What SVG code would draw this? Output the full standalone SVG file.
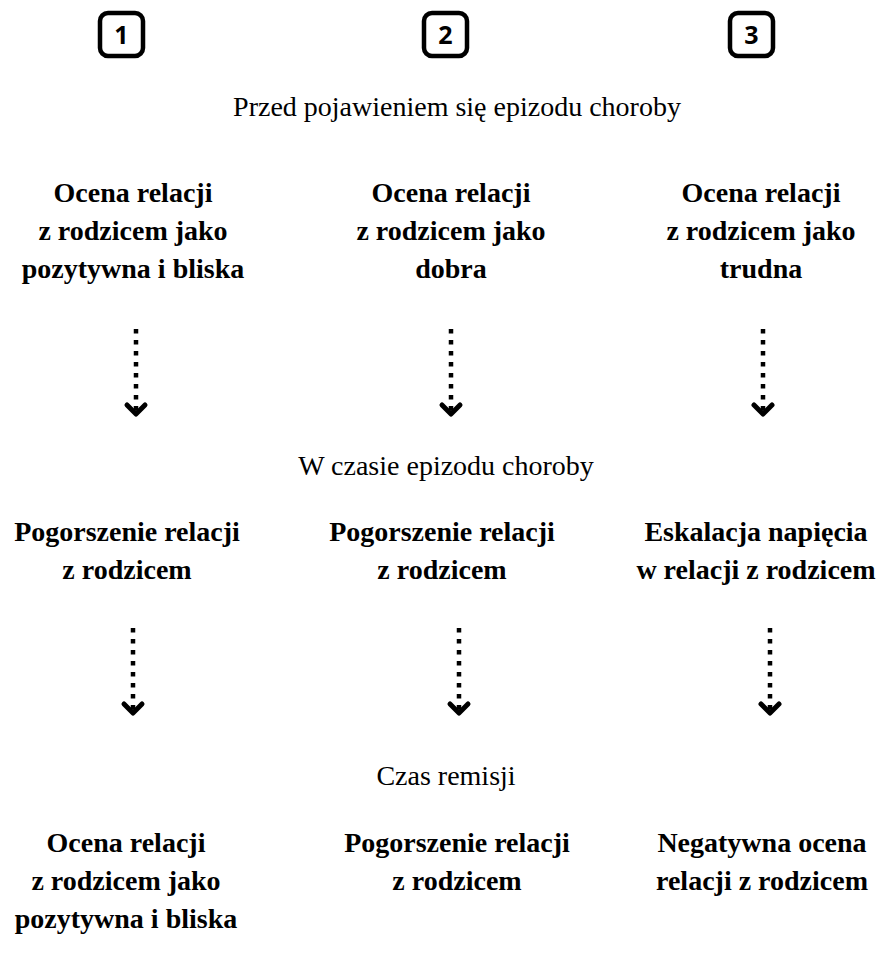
<svg xmlns="http://www.w3.org/2000/svg" width="893" height="960" viewBox="0 0 893 960">
<style>
.bg{fill:#fff}
.num{fill:none;stroke:#000;stroke-width:4.5}
.numt{font-family:'Open Sans','DejaVu Sans',sans-serif;font-weight:bold;font-size:25px;fill:#000;text-anchor:middle}
.hdr{font-family:'Liberation Serif','Times New Roman',serif;font-size:28px;fill:#000;text-anchor:middle}
.nt{font-family:'Liberation Serif','Times New Roman',serif;font-weight:bold;font-size:28px;fill:#000;text-anchor:middle}
.dot{stroke:#000;stroke-width:4.5;stroke-dasharray:4.5 6.5;fill:none}
</style>
<defs>
<marker id="chev" markerUnits="userSpaceOnUse" viewBox="-16 -16 32 32" refX="0" refY="0" markerWidth="32" markerHeight="32" orient="auto">
<path d="M-9,-9 L0,0 L-9,9" fill="none" stroke="#000" stroke-width="5" stroke-linecap="round" stroke-linejoin="round"/>
</marker>
</defs>
<rect class="bg" x="0" y="0" width="893" height="960"/>
<g id="n1">
<rect class="num" x="100" y="13" width="43" height="43" rx="8"/>
<text class="numt" x="121.5" y="43.5">1</text>
</g>
<g id="n2">
<rect class="num" x="424" y="13" width="43" height="43" rx="8"/>
<text class="numt" x="445.5" y="43.5">2</text>
</g>
<g id="n3">
<rect class="num" x="730" y="13" width="43" height="43" rx="8"/>
<text class="numt" x="751.5" y="43.5">3</text>
</g>
<g id="h1"><text class="hdr" x="457" y="116">Przed pojawieniem się epizodu choroby</text></g>
<g id="a1"><text class="nt" x="133" y="202">Ocena relacji</text><text class="nt" x="133" y="240">z rodzicem jako</text><text class="nt" x="133" y="278">pozytywna i bliska</text></g>
<g id="a2"><text class="nt" x="451" y="202">Ocena relacji</text><text class="nt" x="451" y="240">z rodzicem jako</text><text class="nt" x="451" y="278">dobra</text></g>
<g id="a3"><text class="nt" x="761" y="202">Ocena relacji</text><text class="nt" x="761" y="240">z rodzicem jako</text><text class="nt" x="761" y="278">trudna</text></g>
<g id="h2"><text class="hdr" x="446" y="475">W czasie epizodu choroby</text></g>
<g id="b1"><text class="nt" x="127" y="541">Pogorszenie relacji</text><text class="nt" x="127" y="579">z rodzicem</text></g>
<g id="b2"><text class="nt" x="442" y="541">Pogorszenie relacji</text><text class="nt" x="442" y="579">z rodzicem</text></g>
<g id="b3"><text class="nt" x="756" y="541">Eskalacja napięcia</text><text class="nt" x="756" y="579">w relacji z rodzicem</text></g>
<g id="h3"><text class="hdr" x="446" y="785">Czas remisji</text></g>
<g id="c1"><text class="nt" x="126" y="852">Ocena relacji</text><text class="nt" x="126" y="890">z rodzicem jako</text><text class="nt" x="126" y="928">pozytywna i bliska</text></g>
<g id="c2"><text class="nt" x="457" y="852">Pogorszenie relacji</text><text class="nt" x="457" y="890">z rodzicem</text></g>
<g id="c3"><text class="nt" x="762" y="852">Negatywna ocena</text><text class="nt" x="762" y="890">relacji z rodzicem</text></g>
<g id="connectors">
<line class="dot" x1="136" y1="329" x2="136" y2="414" marker-end="url(#chev)"/>
<line class="dot" x1="451" y1="329" x2="451" y2="414" marker-end="url(#chev)"/>
<line class="dot" x1="763" y1="329" x2="763" y2="414" marker-end="url(#chev)"/>
<line class="dot" x1="133" y1="628" x2="133" y2="713" marker-end="url(#chev)"/>
<line class="dot" x1="459" y1="628" x2="459" y2="713" marker-end="url(#chev)"/>
<line class="dot" x1="770" y1="628" x2="770" y2="713" marker-end="url(#chev)"/>
</g>
</svg>
